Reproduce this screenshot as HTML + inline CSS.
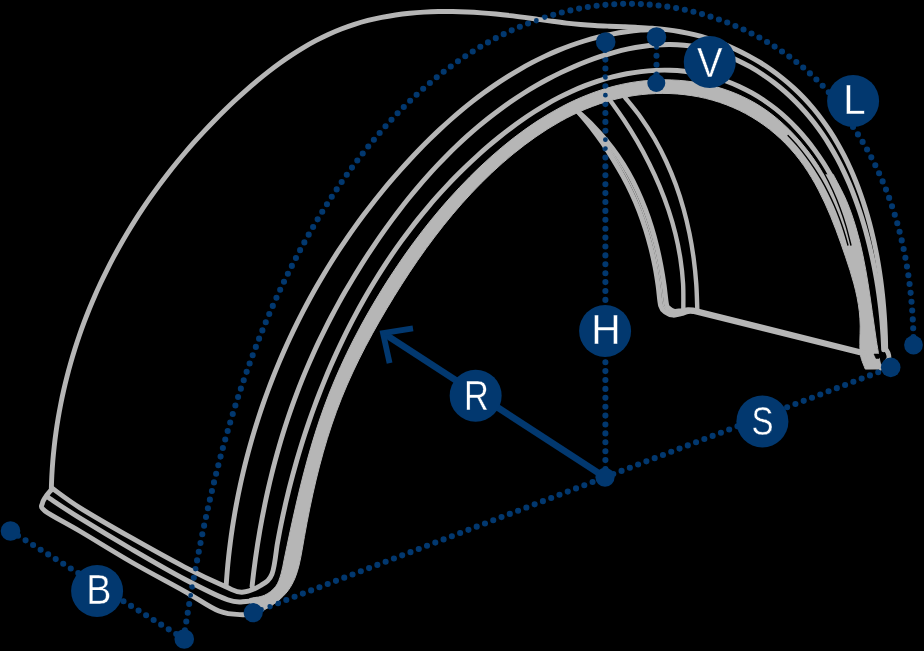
<!DOCTYPE html>
<html><head><meta charset="utf-8"><title>Mudguard dimensions</title>
<style>
html,body{margin:0;padding:0;background:#000;}
body{width:924px;height:651px;overflow:hidden;}
svg{display:block;will-change:transform;}
.lb{font-family:"Liberation Sans",sans-serif;font-size:100px;fill:#fff;stroke:#02386f;stroke-width:0.4px;vector-effect:non-scaling-stroke;}
</style></head><body>
<svg width="924" height="651" viewBox="0 0 924 651">
<rect width="924" height="651" fill="#000"/>
<path d="M183.50,639.07 C183.87,636.72 184.98,629.67 185.74,624.97 C186.49,620.27 187.26,615.58 188.05,610.89 C188.83,606.20 189.63,601.51 190.44,596.83 C191.25,592.15 192.08,587.47 192.92,582.79 C193.76,578.12 194.62,573.45 195.49,568.78 C196.37,564.12 197.26,559.45 198.17,554.80 C199.08,550.14 200.00,545.49 200.95,540.85 C201.89,536.20 202.86,531.56 203.84,526.93 C204.83,522.30 205.83,517.67 206.85,513.05 C207.88,508.43 208.92,503.81 209.99,499.21 C211.06,494.60 212.15,490.00 213.26,485.41 C214.37,480.81 215.51,476.23 216.67,471.65 C217.83,467.07 219.01,462.50 220.22,457.94 C221.42,453.38 222.66,448.83 223.92,444.28 C225.18,439.74 226.46,435.20 227.77,430.68 C229.09,426.15 230.42,421.63 231.79,417.13 C233.16,412.62 234.56,408.12 235.98,403.63 C237.41,399.15 238.86,394.67 240.34,390.20 C241.83,385.73 243.34,381.28 244.89,376.83 C246.44,372.39 248.01,367.95 249.62,363.53 C251.23,359.11 252.87,354.69 254.55,350.29 C256.23,345.89 257.93,341.51 259.68,337.13 C261.42,332.76 263.20,328.39 265.01,324.04 C266.82,319.69 268.67,315.35 270.56,311.03 C272.44,306.70 274.36,302.39 276.32,298.09 C278.28,293.80 280.28,289.51 282.31,285.24 C284.35,280.97 286.42,276.72 288.54,272.47 C290.65,268.23 292.80,264.01 295.00,259.79 C297.19,255.58 299.42,251.38 301.70,247.20 C303.98,243.02 306.29,238.86 308.65,234.71 C311.02,230.56 313.42,226.42 315.87,222.30 C318.31,218.19 320.80,214.09 323.34,210.01 C325.87,205.94 328.45,201.88 331.07,197.86 C333.69,193.83 336.36,189.83 339.07,185.86 C341.78,181.89 344.53,177.95 347.33,174.04 C350.13,170.13 352.97,166.26 355.86,162.42 C358.75,158.59 361.69,154.79 364.67,151.03 C367.65,147.27 370.67,143.55 373.74,139.88 C376.82,136.21 379.93,132.58 383.10,129.01 C386.26,125.43 389.47,121.90 392.73,118.42 C395.98,114.95 399.28,111.52 402.63,108.15 C405.98,104.79 409.38,101.47 412.82,98.22 C416.27,94.97 419.76,91.78 423.30,88.65 C426.84,85.52 430.42,82.46 434.06,79.46 C437.69,76.47 441.38,73.53 445.11,70.68 C448.84,67.82 452.62,65.03 456.45,62.32 C460.28,59.61 464.15,56.97 468.08,54.42 C472.00,51.86 475.98,49.38 480.00,46.98 C484.03,44.59 488.10,42.27 492.23,40.05 C496.35,37.82 500.53,35.68 504.75,33.63 C508.97,31.58 513.24,29.61 517.56,27.75 C521.87,25.89 526.23,24.12 530.62,22.45 C535.02,20.78 539.46,19.21 543.92,17.75 C548.39,16.29 552.89,14.92 557.42,13.68 C561.95,12.43 566.51,11.29 571.09,10.27 C575.68,9.25 580.29,8.34 584.91,7.55 C589.54,6.77 594.18,6.09 598.84,5.55 C603.50,5.01 608.18,4.59 612.86,4.30 C617.54,4.01 622.24,3.85 626.94,3.82 C631.63,3.79 636.34,3.88 641.04,4.11 C645.73,4.33 650.43,4.67 655.12,5.14 C659.80,5.61 664.48,6.21 669.14,6.93 C673.81,7.65 678.46,8.49 683.08,9.45 C687.71,10.41 692.32,11.49 696.89,12.69 C701.47,13.90 706.03,15.22 710.54,16.66 C715.06,18.09 719.54,19.65 723.99,21.32 C728.43,23.00 732.84,24.79 737.20,26.69 C741.55,28.59 745.87,30.61 750.13,32.74 C754.39,34.87 758.60,37.11 762.75,39.46 C766.90,41.82 771.00,44.28 775.03,46.86 C779.06,49.43 783.02,52.11 786.92,54.91 C790.81,57.70 794.64,60.60 798.38,63.60 C802.13,66.61 805.81,69.72 809.39,72.94 C812.98,76.15 816.49,79.47 819.90,82.90 C823.32,86.32 826.65,89.85 829.88,93.47 C833.11,97.10 837.72,102.80 839.29,104.66" fill="none" stroke="#02386f" stroke-width="6.1" stroke-linecap="round" stroke-dasharray="0 8.87"/>
<path d="M853.02,126.95 C854.42,129.10 858.71,135.48 861.38,139.84 C864.05,144.21 866.60,148.63 869.04,153.11 C871.47,157.59 873.79,162.13 876.01,166.72 C878.22,171.30 880.32,175.95 882.32,180.63 C884.31,185.31 886.20,190.05 887.98,194.82 C889.76,199.59 891.44,204.41 893.02,209.25 C894.60,214.10 896.08,218.99 897.46,223.90 C898.84,228.81 900.12,233.76 901.31,238.73 C902.50,243.70 903.59,248.69 904.60,253.71 C905.60,258.72 906.51,263.75 907.34,268.80 C908.17,273.85 908.90,278.91 909.56,283.98 C910.21,289.05 910.78,294.14 911.27,299.22 C911.76,304.30 912.16,309.39 912.49,314.48 C912.82,319.56 913.07,324.65 913.25,329.73 C913.43,334.81 913.51,342.40 913.56,344.94" fill="none" stroke="#02386f" stroke-width="6.1" stroke-linecap="round" stroke-dasharray="0 8.87"/>
<path d="M605.4,41.8 L605.4,477" fill="none" stroke="#02386f" stroke-width="6.1" stroke-linecap="round" stroke-dasharray="0 8.9"/>
<path d="M656.5,37.5 L656.5,83" fill="none" stroke="#02386f" stroke-width="6.1" stroke-linecap="round" stroke-dasharray="0 9.1"/>
<path d="M253.2,612.7 L605,477.25" fill="none" stroke="#02386f" stroke-width="6.1" stroke-linecap="round" stroke-dasharray="0 8.87"/>
<path d="M605,477.25 L890.5,367.5" fill="none" stroke="#02386f" stroke-width="6.1" stroke-linecap="round" stroke-dasharray="0 8.87"/>
<path d="M10.5,531 L184.25,639" fill="none" stroke="#02386f" stroke-width="6.1" stroke-linecap="round" stroke-dasharray="0 8.87"/>
<path d="M51.27,490.17 C51.37,487.74 51.58,480.43 51.83,475.58 C52.09,470.74 52.41,465.90 52.80,461.09 C53.20,456.28 53.66,451.48 54.19,446.69 C54.71,441.91 55.31,437.15 55.97,432.40 C56.64,427.65 57.37,422.92 58.16,418.21 C58.95,413.50 59.82,408.80 60.74,404.13 C61.66,399.46 62.65,394.80 63.70,390.16 C64.76,385.53 65.87,380.91 67.05,376.32 C68.23,371.72 69.47,367.14 70.77,362.59 C72.07,358.03 73.44,353.50 74.86,348.99 C76.29,344.48 77.77,339.99 79.31,335.52 C80.86,331.05 82.46,326.61 84.12,322.18 C85.79,317.76 87.51,313.36 89.28,308.99 C91.06,304.61 92.90,300.26 94.79,295.94 C96.68,291.61 98.63,287.31 100.63,283.03 C102.64,278.76 104.70,274.50 106.81,270.28 C108.92,266.05 111.09,261.85 113.31,257.68 C115.54,253.51 117.81,249.36 120.14,245.24 C122.47,241.13 124.85,237.03 127.28,232.97 C129.71,228.91 132.19,224.87 134.73,220.87 C137.26,216.86 139.85,212.88 142.48,208.94 C145.11,204.99 147.80,201.07 150.53,197.18 C153.26,193.29 156.04,189.44 158.87,185.61 C161.70,181.78 164.58,177.99 167.50,174.22 C170.42,170.46 173.39,166.72 176.40,163.02 C179.42,159.32 182.48,155.66 185.58,152.02 C188.69,148.39 191.84,144.78 195.03,141.22 C198.22,137.65 201.46,134.11 204.74,130.61 C208.01,127.11 211.34,123.65 214.70,120.22 C218.06,116.79 221.47,113.39 224.91,110.03 C228.36,106.67 231.84,103.35 235.37,100.06 C238.89,96.78 242.46,93.53 246.07,90.34 C249.67,87.15 253.32,84.00 257.02,80.93 C260.71,77.85 264.44,74.83 268.22,71.89 C272.00,68.94 275.82,66.06 279.69,63.28 C283.56,60.49 287.47,57.78 291.43,55.17 C295.39,52.56 299.40,50.03 303.45,47.62 C307.51,45.21 311.61,42.89 315.76,40.70 C319.91,38.51 324.11,36.42 328.35,34.47 C332.60,32.52 336.90,30.68 341.25,28.99 C345.60,27.30 350.00,25.74 354.45,24.32 C358.90,22.90 363.40,21.62 367.93,20.46 C372.47,19.30 377.05,18.27 381.66,17.35 C386.27,16.44 390.93,15.65 395.60,14.96 C400.28,14.27 404.99,13.71 409.71,13.23 C414.44,12.76 419.19,12.39 423.96,12.11 C428.72,11.84 433.51,11.66 438.30,11.56 C443.09,11.47 447.90,11.46 452.71,11.53 C457.51,11.60 462.33,11.75 467.13,11.97 C471.94,12.18 476.75,12.48 481.54,12.82 C486.34,13.17 491.13,13.59 495.90,14.05 C500.68,14.52 505.44,15.05 510.18,15.61 C514.91,16.17 519.63,16.80 524.33,17.43 C529.04,18.05 533.72,18.73 538.41,19.37 C543.10,20.02 547.77,20.69 552.45,21.30 C557.13,21.92 561.80,22.53 566.49,23.07 C571.18,23.61 575.88,24.11 580.59,24.52 C585.31,24.94 590.04,25.26 594.78,25.54 C599.53,25.82 604.29,26.01 609.06,26.21 C613.82,26.41 618.60,26.55 623.38,26.74 C628.15,26.92 632.93,27.09 637.70,27.34 C642.47,27.59 647.25,27.85 652.00,28.23 C656.75,28.61 661.50,29.03 666.23,29.62 C670.95,30.20 675.67,30.87 680.35,31.72 C685.03,32.57 689.70,33.57 694.32,34.71 C698.95,35.86 703.54,37.16 708.09,38.60 C712.64,40.03 717.15,41.62 721.60,43.34 C726.05,45.06 730.45,46.93 734.79,48.92 C739.12,50.91 743.40,53.04 747.60,55.29 C751.80,57.54 755.93,59.93 759.98,62.43 C764.02,64.94 767.99,67.57 771.86,70.31 C775.73,73.05 779.51,75.92 783.19,78.89 C786.87,81.87 790.45,84.96 793.91,88.15 C797.37,91.34 800.73,94.65 803.97,98.05 C807.20,101.45 810.32,104.96 813.33,108.55 C816.33,112.15 819.22,115.84 822.00,119.62 C824.79,123.39 827.46,127.26 830.02,131.20 C832.59,135.14 835.05,139.16 837.41,143.25 C839.76,147.34 842.01,151.50 844.17,155.72 C846.32,159.94 848.38,164.24 850.34,168.58 C852.30,172.92 854.16,177.32 855.93,181.76 C857.70,186.21 859.37,190.71 860.96,195.24 C862.55,199.77 864.05,204.35 865.47,208.96 C866.88,213.56 868.21,218.21 869.46,222.87 C870.70,227.54 871.86,232.23 872.95,236.94 C874.04,241.65 875.04,246.38 875.98,251.11 C876.91,255.84 877.77,260.60 878.55,265.34 C879.34,270.09 880.05,274.85 880.70,279.59 C881.34,284.33 881.92,289.08 882.43,293.81 C882.95,298.53 883.39,303.25 883.78,307.95 C884.17,312.64 884.49,317.32 884.76,321.96 C885.03,326.61 885.24,331.23 885.40,335.81 C885.56,340.39 885.66,347.18 885.71,349.45" fill="none" stroke="#b6b6b6" stroke-width="4.9" stroke-linecap="round" stroke-linejoin="round"/>
<path d="M226.16,585.40 C226.34,583.02 226.83,575.86 227.24,571.10 C227.65,566.34 228.11,561.58 228.62,556.83 C229.13,552.08 229.70,547.34 230.31,542.61 C230.92,537.87 231.58,533.14 232.29,528.43 C233.00,523.71 233.76,519.00 234.57,514.30 C235.38,509.59 236.24,504.90 237.15,500.22 C238.05,495.54 239.01,490.87 240.01,486.21 C241.01,481.54 242.07,476.89 243.17,472.26 C244.26,467.62 245.41,462.99 246.61,458.38 C247.80,453.77 249.04,449.16 250.33,444.58 C251.62,439.99 252.96,435.42 254.34,430.86 C255.73,426.30 257.16,421.75 258.63,417.22 C260.11,412.69 261.63,408.18 263.20,403.68 C264.77,399.18 266.38,394.70 268.04,390.24 C269.70,385.77 271.41,381.32 273.16,376.89 C274.91,372.46 276.71,368.05 278.55,363.66 C280.39,359.26 282.28,354.89 284.21,350.53 C286.14,346.18 288.11,341.84 290.13,337.52 C292.15,333.21 294.21,328.91 296.32,324.64 C298.43,320.37 300.58,316.11 302.77,311.88 C304.97,307.65 307.20,303.44 309.49,299.26 C311.77,295.07 314.09,290.91 316.45,286.77 C318.82,282.63 321.23,278.52 323.68,274.43 C326.13,270.34 328.62,266.27 331.16,262.23 C333.69,258.19 336.27,254.18 338.89,250.19 C341.51,246.20 344.17,242.24 346.87,238.30 C349.57,234.37 352.31,230.46 355.09,226.58 C357.88,222.70 360.70,218.85 363.56,215.03 C366.43,211.21 369.33,207.42 372.28,203.65 C375.22,199.89 378.21,196.16 381.23,192.45 C384.25,188.75 387.32,185.08 390.42,181.44 C393.52,177.80 396.66,174.19 399.84,170.61 C403.03,167.04 406.24,163.49 409.50,159.98 C412.76,156.47 416.06,152.99 419.39,149.55 C422.73,146.11 426.10,142.71 429.52,139.35 C432.93,136.00 436.39,132.68 439.88,129.41 C443.38,126.14 446.91,122.92 450.49,119.76 C454.07,116.59 457.69,113.47 461.35,110.42 C465.01,107.36 468.71,104.36 472.45,101.43 C476.20,98.49 479.98,95.62 483.81,92.81 C487.64,90.01 491.51,87.26 495.43,84.60 C499.35,81.93 503.31,79.34 507.31,76.82 C511.32,74.31 515.37,71.86 519.46,69.51 C523.56,67.15 527.70,64.87 531.88,62.68 C536.07,60.49 540.30,58.39 544.58,56.38 C548.85,54.37 553.18,52.45 557.55,50.63 C561.91,48.82 566.33,47.10 570.78,45.49 C575.24,43.88 579.74,42.37 584.28,40.98 C588.83,39.59 593.41,38.30 598.04,37.15 C602.67,35.99 607.34,34.95 612.05,34.04 C616.76,33.13 621.51,32.35 626.30,31.70 C631.09,31.06 635.92,30.54 640.79,30.17 C645.66,29.80 653.06,29.60 655.51,29.48" fill="none" stroke="#b6b6b6" stroke-width="4.9" stroke-linecap="round" stroke-linejoin="round"/>
<path d="M252.06,586.23 C252.33,583.91 253.09,576.97 253.67,572.33 C254.24,567.69 254.85,563.04 255.50,558.39 C256.15,553.75 256.84,549.09 257.57,544.43 C258.30,539.78 259.07,535.12 259.88,530.46 C260.69,525.81 261.54,521.15 262.43,516.50 C263.32,511.84 264.25,507.19 265.22,502.55 C266.20,497.90 267.21,493.26 268.27,488.63 C269.32,484.00 270.42,479.37 271.56,474.76 C272.70,470.15 273.88,465.54 275.11,460.95 C276.33,456.36 277.60,451.78 278.91,447.21 C280.23,442.65 281.58,438.10 282.98,433.56 C284.38,429.03 285.83,424.51 287.31,420.02 C288.80,415.52 290.34,411.04 291.91,406.59 C293.49,402.13 295.12,397.70 296.79,393.29 C298.46,388.88 300.17,384.49 301.93,380.13 C303.69,375.76 305.49,371.42 307.34,367.10 C309.19,362.78 311.08,358.48 313.01,354.20 C314.95,349.92 316.92,345.66 318.94,341.43 C320.96,337.19 323.03,332.98 325.13,328.78 C327.23,324.59 329.38,320.42 331.57,316.26 C333.76,312.11 335.98,307.98 338.25,303.86 C340.52,299.75 342.83,295.65 345.18,291.58 C347.53,287.50 349.92,283.45 352.35,279.41 C354.78,275.37 357.25,271.36 359.75,267.36 C362.26,263.35 364.80,259.37 367.38,255.41 C369.97,251.45 372.59,247.50 375.25,243.58 C377.91,239.66 380.61,235.76 383.35,231.89 C386.09,228.01 388.87,224.16 391.68,220.35 C394.50,216.53 397.36,212.74 400.26,208.98 C403.17,205.23 406.11,201.50 409.09,197.81 C412.07,194.12 415.10,190.47 418.17,186.86 C421.23,183.24 424.34,179.66 427.50,176.13 C430.65,172.60 433.85,169.10 437.09,165.66 C440.33,162.21 443.61,158.81 446.94,155.45 C450.27,152.10 453.64,148.79 457.06,145.54 C460.48,142.29 463.94,139.09 467.45,135.94 C470.96,132.79 474.51,129.70 478.11,126.67 C481.71,123.63 485.36,120.66 489.05,117.74 C492.75,114.83 496.49,111.97 500.28,109.19 C504.07,106.40 507.90,103.67 511.79,101.02 C515.67,98.36 519.61,95.77 523.59,93.25 C527.57,90.74 531.60,88.29 535.69,85.92 C539.77,83.55 543.90,81.25 548.08,79.03 C552.26,76.81 556.50,74.66 560.78,72.60 C565.06,70.54 569.40,68.55 573.78,66.66 C578.17,64.76 582.61,62.94 587.09,61.23 C591.56,59.52 596.09,57.90 600.64,56.41 C605.19,54.92 609.78,53.53 614.39,52.28 C618.99,51.03 623.63,49.90 628.28,48.94 C632.92,47.97 637.59,47.13 642.25,46.47 C646.91,45.81 651.59,45.30 656.26,44.98 C660.92,44.65 665.59,44.50 670.24,44.54 C674.88,44.59 679.53,44.82 684.14,45.27 C688.75,45.71 693.35,46.37 697.90,47.23 C702.46,48.10 706.99,49.19 711.47,50.47 C715.96,51.75 720.40,53.23 724.79,54.89 C729.17,56.55 733.51,58.41 737.78,60.42 C742.04,62.43 746.25,64.63 750.38,66.97 C754.50,69.31 758.56,71.82 762.53,74.46 C766.49,77.10 770.38,79.89 774.16,82.80 C777.94,85.71 781.63,88.76 785.21,91.91 C788.78,95.06 792.26,98.34 795.61,101.70 C798.96,105.07 802.19,108.55 805.31,112.10 C808.42,115.66 811.41,119.31 814.29,123.04 C817.17,126.78 819.93,130.60 822.59,134.48 C825.25,138.37 827.79,142.34 830.23,146.37 C832.68,150.41 835.01,154.51 837.25,158.67 C839.49,162.83 841.62,167.05 843.66,171.32 C845.70,175.59 847.64,179.92 849.50,184.29 C851.35,188.66 853.11,193.08 854.79,197.52 C856.46,201.97 858.05,206.46 859.56,210.98 C861.07,215.49 862.49,220.04 863.84,224.60 C865.19,229.17 866.45,233.76 867.65,238.36 C868.85,242.95 869.97,247.57 871.03,252.19 C872.09,256.81 873.08,261.44 874.00,266.07 C874.92,270.69 875.78,275.33 876.57,279.96 C877.36,284.60 878.09,289.24 878.75,293.89 C879.41,298.54 880.01,303.19 880.54,307.84 C881.07,312.50 881.54,317.16 881.95,321.82 C882.35,326.49 882.70,331.16 882.98,335.83 C883.26,340.51 883.53,347.53 883.64,349.87" fill="none" stroke="#b6b6b6" stroke-width="4.9" stroke-linecap="round" stroke-linejoin="round"/>
<path d="M52.50,488.50 C57.08,491.72 66.73,499.52 80.00,507.80 C93.27,516.08 114.73,528.37 132.10,538.20 C149.47,548.03 168.58,558.70 184.20,566.80 C199.82,574.90 216.17,582.55 225.80,586.80 C235.43,591.05 236.18,592.52 242.00,592.30 C247.82,592.08 255.70,588.55 260.70,585.50 C265.70,582.45 269.25,580.82 272.00,574.00 C274.75,567.18 276.33,549.48 277.20,544.58 C277.63,542.26 278.90,535.30 279.81,530.66 C280.71,526.02 281.66,521.38 282.66,516.74 C283.65,512.10 284.68,507.47 285.75,502.83 C286.83,498.20 287.94,493.57 289.10,488.94 C290.25,484.31 291.45,479.69 292.69,475.08 C293.93,470.46 295.21,465.85 296.53,461.25 C297.86,456.65 299.22,452.05 300.63,447.47 C302.03,442.89 303.48,438.31 304.97,433.75 C306.46,429.18 308.00,424.63 309.57,420.09 C311.15,415.55 312.77,411.02 314.43,406.51 C316.09,401.99 317.79,397.49 319.54,393.01 C321.29,388.53 323.08,384.06 324.91,379.61 C326.74,375.16 328.62,370.72 330.54,366.31 C332.46,361.90 334.42,357.50 336.43,353.13 C338.43,348.75 340.48,344.40 342.57,340.07 C344.67,335.73 346.81,331.42 348.99,327.14 C351.17,322.85 353.39,318.59 355.66,314.35 C357.93,310.12 360.24,305.91 362.60,301.72 C364.96,297.54 367.36,293.38 369.81,289.25 C372.25,285.12 374.75,281.02 377.28,276.95 C379.82,272.88 382.40,268.84 385.02,264.83 C387.65,260.83 390.32,256.85 393.04,252.91 C395.75,248.97 398.51,245.05 401.32,241.18 C404.13,237.31 406.98,233.47 409.87,229.66 C412.77,225.86 415.71,222.09 418.70,218.37 C421.69,214.64 424.73,210.95 427.81,207.30 C430.89,203.65 434.01,200.03 437.19,196.47 C440.36,192.90 443.58,189.37 446.85,185.88 C450.11,182.40 453.42,178.96 456.78,175.56 C460.14,172.16 463.54,168.81 467.00,165.50 C470.45,162.20 473.95,158.93 477.49,155.72 C481.04,152.51 484.63,149.34 488.27,146.23 C491.91,143.11 495.60,140.04 499.34,137.03 C503.07,134.03 506.86,131.07 510.69,128.19 C514.52,125.31 518.40,122.49 522.33,119.75 C526.27,117.01 530.25,114.35 534.28,111.77 C538.31,109.20 542.40,106.71 546.53,104.32 C550.67,101.93 554.85,99.63 559.10,97.44 C563.34,95.26 567.63,93.17 571.97,91.20 C576.32,89.24 580.72,87.38 585.18,85.65 C589.63,83.93 594.14,82.32 598.71,80.86 C603.27,79.40 607.90,78.06 612.57,76.87 C617.24,75.69 621.97,74.64 626.71,73.76 C631.46,72.87 636.26,72.13 641.05,71.57 C645.85,71.01 650.67,70.60 655.48,70.38 C660.30,70.16 665.12,70.11 669.92,70.25 C674.72,70.40 679.52,70.72 684.27,71.24 C689.02,71.76 693.76,72.48 698.44,73.39 C703.12,74.29 707.77,75.38 712.35,76.66 C716.94,77.93 721.48,79.39 725.95,81.03 C730.41,82.66 734.83,84.48 739.15,86.46 C743.47,88.45 747.73,90.61 751.88,92.94 C756.03,95.26 760.11,97.76 764.07,100.42 C768.03,103.08 771.90,105.91 775.65,108.88 C779.40,111.85 783.04,115.00 786.56,118.26 C790.09,121.52 793.50,124.94 796.80,128.46 C800.10,131.97 803.28,135.62 806.35,139.35 C809.42,143.08 812.37,146.92 815.20,150.83 C818.03,154.73 820.75,158.73 823.35,162.78 C825.94,166.82 829.54,173.03 830.78,175.08" fill="none" stroke="#b6b6b6" stroke-width="4.9" stroke-linecap="round" stroke-linejoin="round"/>
<path d="M47.50,497.00 C52.92,500.53 65.90,509.45 80.00,518.20 C94.10,526.95 114.73,539.37 132.10,549.50 C149.47,559.63 168.28,570.62 184.20,579.00 C200.12,587.38 217.30,596.05 227.60,599.80 C237.90,603.55 241.27,601.58 246.00,601.50 C250.73,601.42 254.33,599.67 256.00,599.30" fill="none" stroke="#b6b6b6" stroke-width="4.9" stroke-linecap="round" stroke-linejoin="round"/>
<path d="M52.50,488.50 C51.58,489.58 48.67,492.58 47.00,495.00 C45.33,497.42 42.83,500.33 42.50,503.00 C42.17,505.67 38.75,506.29 45.00,511.00 C51.25,515.71 65.48,522.67 80.00,531.25 C94.52,539.83 114.73,552.52 132.10,562.50 C149.47,572.48 169.73,583.00 184.20,591.10 C198.67,599.20 209.10,607.17 218.90,611.10 C228.70,615.03 237.32,614.43 243.00,614.70 C248.68,614.97 251.33,613.03 253.00,612.70" fill="none" stroke="#b6b6b6" stroke-width="4.9" stroke-linecap="round" stroke-linejoin="round"/>
<path d="M249.61,598.55 C252.10,597.99 260.23,597.21 264.57,595.22 C268.90,593.22 272.87,590.15 275.62,586.60 C278.37,583.04 279.63,578.39 281.05,573.90 C282.47,569.41 283.13,564.41 284.14,559.66 C285.15,554.91 286.12,550.15 287.12,545.40 C288.12,540.66 289.12,535.92 290.14,531.20 C291.16,526.47 292.19,521.75 293.24,517.05 C294.29,512.34 295.35,507.65 296.43,502.97 C297.52,498.28 298.63,493.61 299.76,488.95 C300.90,484.29 302.06,479.64 303.26,475.00 C304.45,470.36 305.68,465.74 306.94,461.13 C308.21,456.51 309.51,451.92 310.86,447.33 C312.20,442.74 313.59,438.17 315.02,433.61 C316.46,429.05 317.94,424.51 319.48,419.98 C321.02,415.45 322.60,410.94 324.25,406.44 C325.90,401.94 327.60,397.45 329.37,392.98 C331.13,388.51 332.96,384.06 334.84,379.63 C336.73,375.19 338.67,370.77 340.66,366.38 C342.66,361.98 344.71,357.61 346.80,353.25 C348.90,348.90 351.05,344.56 353.25,340.26 C355.45,335.95 357.70,331.66 359.99,327.40 C362.28,323.14 364.62,318.91 366.99,314.70 C369.37,310.49 371.80,306.31 374.26,302.16 C376.71,298.01 379.22,293.89 381.75,289.80 C384.29,285.71 386.86,281.65 389.47,277.62 C392.08,273.60 394.72,269.60 397.39,265.64 C400.06,261.68 402.77,257.76 405.51,253.87 C408.26,249.97 411.04,246.11 413.86,242.29 C416.68,238.46 419.54,234.67 422.45,230.91 C425.35,227.15 428.30,223.43 431.29,219.73 C434.29,216.04 437.33,212.38 440.42,208.75 C443.51,205.13 446.64,201.53 449.83,197.97 C453.02,194.41 456.27,190.88 459.56,187.39 C462.86,183.89 466.22,180.42 469.63,177.00 C473.04,173.57 476.51,170.17 480.03,166.83 C483.55,163.49 487.13,160.18 490.77,156.94 C494.40,153.70 498.09,150.51 501.83,147.39 C505.57,144.27 509.36,141.20 513.21,138.23 C517.05,135.25 520.95,132.33 524.90,129.52 C528.84,126.70 532.84,123.95 536.89,121.31 C540.94,118.67 545.04,116.12 549.18,113.68 C553.33,111.24 557.52,108.89 561.76,106.66 C566.00,104.44 570.29,102.32 574.62,100.34 C578.95,98.35 583.33,96.48 587.76,94.75 C592.18,93.01 596.65,91.41 601.16,89.95 C605.67,88.50 610.23,87.18 614.83,86.02 C619.42,84.86 624.06,83.84 628.74,82.99 C633.42,82.15 638.15,81.45 642.91,80.94 C647.67,80.43 652.48,80.08 657.30,79.92 C662.13,79.75 667.00,79.76 671.85,79.95 C676.71,80.14 681.58,80.50 686.42,81.05 C691.26,81.60 696.10,82.33 700.89,83.24 C705.67,84.15 710.43,85.24 715.11,86.52 C719.79,87.80 724.43,89.26 728.97,90.91 C733.51,92.56 737.99,94.40 742.34,96.42 C746.69,98.45 750.95,100.67 755.07,103.07 C759.20,105.48 763.20,108.08 767.08,110.85 C770.96,113.61 774.72,116.56 778.36,119.65 C782.00,122.73 785.51,125.99 788.92,129.36 C792.32,132.73 795.61,136.25 798.78,139.86 C801.96,143.47 805.02,147.21 807.98,151.03 C810.94,154.84 813.78,158.77 816.52,162.74 C819.27,166.72 823.12,172.87 824.44,174.89 L833.33,174.61 C835.51,178.93 842.62,191.72 846.40,200.55 C850.17,209.38 853.22,218.44 855.98,227.58 C858.73,236.73 860.91,246.05 862.93,255.41 C864.94,264.77 866.52,274.27 868.08,283.75 C869.64,293.23 870.90,302.80 872.29,312.31 C873.67,321.82 874.90,331.36 876.39,340.80 C877.88,350.24 880.42,364.26 881.22,368.95 L865.26,369.07 C864.47,366.83 861.42,360.28 860.53,355.59 C859.63,350.90 859.94,345.86 859.89,340.94 C859.84,336.02 860.33,330.95 860.23,326.07 C860.14,321.18 859.84,316.38 859.33,311.63 C858.81,306.89 858.03,302.24 857.13,297.61 C856.23,292.99 855.12,288.43 853.92,283.88 C852.72,279.33 851.36,274.83 849.96,270.32 C848.56,265.81 847.04,261.32 845.52,256.80 C844.00,252.29 842.45,247.76 840.84,243.24 C839.23,238.71 837.60,234.18 835.89,229.67 C834.18,225.17 832.43,220.67 830.58,216.22 C828.73,211.77 826.82,207.34 824.80,202.99 C822.79,198.63 820.69,194.30 818.47,190.07 C816.25,185.83 813.94,181.65 811.48,177.58 C809.03,173.50 806.46,169.49 803.74,165.61 C801.01,161.73 798.16,157.94 795.14,154.28 C792.12,150.63 788.94,147.09 785.60,143.69 C782.27,140.30 778.77,137.03 775.15,133.93 C771.53,130.82 767.76,127.86 763.88,125.07 C760.00,122.27 755.99,119.63 751.88,117.18 C747.78,114.73 743.55,112.45 739.25,110.36 C734.96,108.28 730.55,106.38 726.09,104.68 C721.63,102.98 717.08,101.48 712.49,100.18 C707.90,98.87 703.24,97.76 698.55,96.83 C693.86,95.91 689.11,95.18 684.35,94.63 C679.60,94.08 674.80,93.72 670.01,93.54 C665.22,93.36 660.40,93.36 655.61,93.54 C650.81,93.72 646.01,94.08 641.24,94.61 C636.48,95.14 631.72,95.84 627.01,96.71 C622.31,97.58 617.63,98.63 613.01,99.83 C608.40,101.04 603.83,102.42 599.33,103.94 C594.82,105.46 590.37,107.15 585.98,108.96 C581.58,110.78 577.25,112.75 572.97,114.83 C568.69,116.91 564.46,119.13 560.30,121.46 C556.13,123.78 552.02,126.23 547.97,128.77 C543.92,131.31 539.93,133.97 536.00,136.69 C532.06,139.42 528.18,142.25 524.37,145.15 C520.55,148.04 516.79,151.02 513.09,154.06 C509.39,157.09 505.75,160.19 502.17,163.34 C498.58,166.50 495.06,169.71 491.59,172.98 C488.12,176.25 484.70,179.58 481.34,182.95 C477.98,186.32 474.67,189.75 471.41,193.23 C468.15,196.70 464.94,200.23 461.78,203.79 C458.62,207.36 455.51,210.98 452.45,214.63 C449.38,218.29 446.37,221.99 443.39,225.72 C440.42,229.46 437.49,233.24 434.61,237.05 C431.72,240.86 428.88,244.71 426.07,248.58 C423.27,252.46 420.50,256.37 417.78,260.31 C415.05,264.25 412.36,268.22 409.71,272.21 C407.06,276.21 404.44,280.23 401.86,284.27 C399.27,288.31 396.73,292.38 394.21,296.46 C391.69,300.55 389.20,304.65 386.75,308.77 C384.29,312.89 381.87,317.03 379.48,321.19 C377.10,325.34 374.74,329.52 372.44,333.71 C370.13,337.91 367.86,342.12 365.64,346.36 C363.43,350.59 361.25,354.84 359.13,359.12 C357.01,363.40 354.94,367.69 352.93,372.01 C350.91,376.33 348.95,380.67 347.06,385.04 C345.17,389.40 343.33,393.79 341.56,398.20 C339.80,402.61 338.09,407.05 336.46,411.51 C334.82,415.97 333.25,420.45 331.73,424.95 C330.21,429.46 328.76,433.98 327.35,438.53 C325.95,443.07 324.60,447.64 323.31,452.22 C322.01,456.81 320.76,461.41 319.56,466.03 C318.36,470.65 317.20,475.29 316.09,479.95 C314.97,484.60 313.90,489.28 312.87,493.96 C311.83,498.65 310.84,503.35 309.87,508.06 C308.90,512.78 307.97,517.51 307.07,522.25 C306.16,526.99 305.29,531.74 304.44,536.50 C303.58,541.26 302.83,546.07 301.94,550.82 C301.06,555.56 300.29,560.36 299.11,564.95 C297.94,569.53 296.71,574.09 294.89,578.33 C293.07,582.58 290.95,586.69 288.17,590.41 C285.40,594.13 281.94,597.58 278.25,600.65 C274.55,603.73 270.25,606.49 266.01,608.86 C261.76,611.23 254.99,613.89 252.79,614.90 Z" fill="#b6b6b6" stroke="#b6b6b6" stroke-width="1.0" stroke-linejoin="round"/>
<path d="M759.89,101.57 C762.49,103.51 770.54,109.11 775.51,113.24 C780.48,117.38 785.21,121.78 789.70,126.36 C794.20,130.95 798.45,135.78 802.48,140.77 C806.51,145.76 810.31,150.96 813.88,156.30 C817.45,161.63 820.79,167.15 823.91,172.78 C827.03,178.41 829.93,184.19 832.61,190.06 C835.28,195.92 837.74,201.92 839.98,207.96 C842.23,214.01 844.25,220.16 846.07,226.34 C847.89,232.52 850.09,241.91 850.89,245.02" fill="none" stroke="#000" stroke-width="1.4" stroke-linecap="round"/>
<path d="M788.07,135.49 C789.65,137.21 794.50,142.30 797.53,145.85 C800.57,149.41 803.48,153.06 806.27,156.80 C809.07,160.54 811.75,164.37 814.30,168.27 C816.86,172.17 819.31,176.16 821.63,180.21 C823.96,184.26 826.16,188.39 828.26,192.57 C830.35,196.74 832.33,200.99 834.19,205.28 C836.06,209.57 837.80,213.92 839.44,218.30 C841.07,222.68 842.60,227.11 844.00,231.57 C845.41,236.02 847.25,242.78 847.90,245.03" fill="none" stroke="#000" stroke-width="1.4" stroke-linecap="round"/>
<path d="M578.40,111.95 C580.47,114.46 586.85,121.83 590.85,126.96 C594.85,132.09 598.70,137.35 602.38,142.71 C606.06,148.07 609.54,153.57 612.93,159.11 C616.32,164.64 619.62,170.24 622.72,175.92 C625.82,181.61 628.79,187.37 631.53,193.22 C634.27,199.07 636.84,205.00 639.17,211.01 C641.50,217.03 643.57,223.15 645.51,229.31 C647.45,235.47 649.22,241.69 650.80,247.96 C652.39,254.22 653.80,260.55 655.02,266.90 C656.25,273.26 657.23,279.61 658.17,286.08 C659.12,292.54 659.45,301.34 660.69,305.71 C661.94,310.08 663.55,310.72 665.64,312.30 C667.73,313.88 670.62,314.97 673.23,315.18 C675.83,315.39 678.77,314.19 681.25,313.58 C683.73,312.96 685.94,311.84 688.09,311.49 C690.25,311.15 693.16,311.50 694.18,311.50 L865.2,354.2" fill="none" stroke="#b6b6b6" stroke-width="4.9" stroke-linecap="round" stroke-linejoin="round"/>
<path d="M578.40,111.95 C580.77,114.19 588.08,120.70 592.66,125.38 C597.24,130.06 601.67,134.98 605.89,140.05 C610.10,145.13 614.19,150.39 617.96,155.83 C621.72,161.28 625.23,166.95 628.49,172.72 C631.75,178.49 634.74,184.43 637.51,190.43 C640.29,196.43 642.79,202.56 645.14,208.72 C647.49,214.88 649.67,221.11 651.62,227.41 C653.56,233.70 655.27,240.07 656.82,246.47 C658.37,252.86 659.70,259.32 660.92,265.78 C662.13,272.23 663.18,278.80 664.11,285.21 C665.04,291.62 665.70,300.41 666.51,304.25 C667.32,308.10 667.75,307.14 668.96,308.30 C670.17,309.46 671.81,310.80 673.77,311.22 C675.74,311.64 678.40,311.07 680.75,310.82 C683.11,310.57 685.66,309.83 687.91,309.71 C690.15,309.58 693.17,310.03 694.22,310.10 L864.8,352.8" fill="none" stroke="#b6b6b6" stroke-width="4.9" stroke-linecap="round" stroke-linejoin="round"/>
<path d="M578.40,111.95 C580.62,114.32 587.47,121.27 591.76,126.17 C596.05,131.07 600.19,136.16 604.13,141.38 C608.08,146.60 611.87,151.98 615.44,157.47 C619.02,162.96 622.42,168.60 625.60,174.32 C628.78,180.05 631.76,185.90 634.52,191.82 C637.28,197.75 639.82,203.78 642.16,209.87 C644.50,215.96 646.62,222.13 648.56,228.36 C650.50,234.58 652.24,240.88 653.81,247.21 C655.38,253.54 656.75,259.93 657.97,266.34 C659.19,272.75 660.20,279.20 661.14,285.64 C662.08,292.08 662.58,300.87 663.60,304.98 C664.63,309.09 665.65,308.93 667.30,310.30 C668.95,311.67 671.22,312.88 673.50,313.20 C675.78,313.52 678.58,312.63 681.00,312.20 C683.42,311.77 685.80,310.83 688.00,310.60 C690.20,310.37 693.17,310.77 694.20,310.80 L865,353.5" fill="none" stroke="#b6b6b6" stroke-width="1.7" stroke-linecap="round" stroke-linejoin="round"/>
<path d="M609.39,99.19 C611.79,102.62 619.19,112.77 623.81,119.78 C628.44,126.78 632.91,133.94 637.12,141.21 C641.34,148.49 645.38,155.91 649.13,163.43 C652.88,170.95 656.42,178.61 659.65,186.35 C662.87,194.10 665.85,201.97 668.48,209.92 C671.12,217.86 673.48,225.92 675.46,234.04 C677.44,242.17 679.11,250.39 680.38,258.67 C681.65,266.94 682.58,275.30 683.07,283.71 C683.56,292.12 683.29,304.88 683.33,309.11" fill="none" stroke="#b6b6b6" stroke-width="4.4" stroke-linecap="round" stroke-linejoin="round"/>
<path d="M624.97,97.44 C627.61,100.77 635.89,110.55 640.81,117.44 C645.73,124.32 650.28,131.46 654.49,138.75 C658.71,146.04 662.57,153.56 666.12,161.20 C669.66,168.83 672.86,176.66 675.76,184.58 C678.66,192.50 681.23,200.58 683.51,208.72 C685.79,216.85 687.76,225.12 689.45,233.41 C691.14,241.71 692.54,250.09 693.67,258.48 C694.80,266.86 695.65,275.31 696.25,283.73 C696.85,292.14 697.11,304.76 697.28,308.97" fill="none" stroke="#b6b6b6" stroke-width="4.4" stroke-linecap="round" stroke-linejoin="round"/>
<path d="M884.5,348 Q889,352 889,358 Q886,364 881,368" fill="none" stroke="#b6b6b6" stroke-width="4.7" stroke-linecap="round" stroke-linejoin="round"/>
<path d="M865.5,353 L866.5,368 L881,368 L876,353 Z" fill="#b6b6b6" stroke="#b6b6b6" stroke-width="2" stroke-linejoin="round"/>
<path d="M874,354 L883.5,354 L879,358.5 L876,358.5 Z" fill="#000" stroke="#000" stroke-width="0.5" />
<path d="M183.50,639.07 C183.87,636.72 184.98,629.67 185.74,624.97 C186.49,620.27 187.26,615.58 188.05,610.89 C188.83,606.20 189.63,601.51 190.44,596.83 C191.25,592.15 192.08,587.47 192.92,582.79 C193.76,578.12 194.62,573.45 195.49,568.78 C196.37,564.12 197.26,559.45 198.17,554.80 C199.08,550.14 200.00,545.49 200.95,540.85 C201.89,536.20 202.86,531.56 203.84,526.93 C204.83,522.30 205.83,517.67 206.85,513.05 C207.88,508.43 208.92,503.81 209.99,499.21 C211.06,494.60 212.15,490.00 213.26,485.41 C214.37,480.81 215.51,476.23 216.67,471.65 C217.83,467.07 219.01,462.50 220.22,457.94 C221.42,453.38 222.66,448.83 223.92,444.28 C225.18,439.74 226.46,435.20 227.77,430.68 C229.09,426.15 230.42,421.63 231.79,417.13 C233.16,412.62 234.56,408.12 235.98,403.63 C237.41,399.15 238.86,394.67 240.34,390.20 C241.83,385.73 243.34,381.28 244.89,376.83 C246.44,372.39 248.01,367.95 249.62,363.53 C251.23,359.11 252.87,354.69 254.55,350.29 C256.23,345.89 257.93,341.51 259.68,337.13 C261.42,332.76 263.20,328.39 265.01,324.04 C266.82,319.69 268.67,315.35 270.56,311.03 C272.44,306.70 274.36,302.39 276.32,298.09 C278.28,293.80 280.28,289.51 282.31,285.24 C284.35,280.97 286.42,276.72 288.54,272.47 C290.65,268.23 292.80,264.01 295.00,259.79 C297.19,255.58 299.42,251.38 301.70,247.20 C303.98,243.02 306.29,238.86 308.65,234.71 C311.02,230.56 313.42,226.42 315.87,222.30 C318.31,218.19 320.80,214.09 323.34,210.01 C325.87,205.94 328.45,201.88 331.07,197.86 C333.69,193.83 336.36,189.83 339.07,185.86 C341.78,181.89 344.53,177.95 347.33,174.04 C350.13,170.13 352.97,166.26 355.86,162.42 C358.75,158.59 361.69,154.79 364.67,151.03 C367.65,147.27 370.67,143.55 373.74,139.88 C376.82,136.21 379.93,132.58 383.10,129.01 C386.26,125.43 389.47,121.90 392.73,118.42 C395.98,114.95 399.28,111.52 402.63,108.15 C405.98,104.79 409.38,101.47 412.82,98.22 C416.27,94.97 419.76,91.78 423.30,88.65 C426.84,85.52 430.42,82.46 434.06,79.46 C437.69,76.47 441.38,73.53 445.11,70.68 C448.84,67.82 452.62,65.03 456.45,62.32 C460.28,59.61 464.15,56.97 468.08,54.42 C472.00,51.86 475.98,49.38 480.00,46.98 C484.03,44.59 488.10,42.27 492.23,40.05 C496.35,37.82 500.53,35.68 504.75,33.63 C508.97,31.58 513.24,29.61 517.56,27.75 C521.87,25.89 526.23,24.12 530.62,22.45 C535.02,20.78 539.46,19.21 543.92,17.75 C548.39,16.29 552.89,14.92 557.42,13.68 C561.95,12.43 566.51,11.29 571.09,10.27 C575.68,9.25 580.29,8.34 584.91,7.55 C589.54,6.77 594.18,6.09 598.84,5.55 C603.50,5.01 608.18,4.59 612.86,4.30 C617.54,4.01 622.24,3.85 626.94,3.82 C631.63,3.79 636.34,3.88 641.04,4.11 C645.73,4.33 650.43,4.67 655.12,5.14 C659.80,5.61 664.48,6.21 669.14,6.93 C673.81,7.65 678.46,8.49 683.08,9.45 C687.71,10.41 692.32,11.49 696.89,12.69 C701.47,13.90 706.03,15.22 710.54,16.66 C715.06,18.09 719.54,19.65 723.99,21.32 C728.43,23.00 732.84,24.79 737.20,26.69 C741.55,28.59 745.87,30.61 750.13,32.74 C754.39,34.87 758.60,37.11 762.75,39.46 C766.90,41.82 771.00,44.28 775.03,46.86 C779.06,49.43 783.02,52.11 786.92,54.91 C790.81,57.70 794.64,60.60 798.38,63.60 C802.13,66.61 805.81,69.72 809.39,72.94 C812.98,76.15 816.49,79.47 819.90,82.90 C823.32,86.32 826.65,89.85 829.88,93.47 C833.11,97.10 837.72,102.80 839.29,104.66" fill="none" stroke="#02386f" stroke-width="4.8" stroke-linecap="round" stroke-dasharray="0 8.87"/>
<path d="M853.02,126.95 C854.42,129.10 858.71,135.48 861.38,139.84 C864.05,144.21 866.60,148.63 869.04,153.11 C871.47,157.59 873.79,162.13 876.01,166.72 C878.22,171.30 880.32,175.95 882.32,180.63 C884.31,185.31 886.20,190.05 887.98,194.82 C889.76,199.59 891.44,204.41 893.02,209.25 C894.60,214.10 896.08,218.99 897.46,223.90 C898.84,228.81 900.12,233.76 901.31,238.73 C902.50,243.70 903.59,248.69 904.60,253.71 C905.60,258.72 906.51,263.75 907.34,268.80 C908.17,273.85 908.90,278.91 909.56,283.98 C910.21,289.05 910.78,294.14 911.27,299.22 C911.76,304.30 912.16,309.39 912.49,314.48 C912.82,319.56 913.07,324.65 913.25,329.73 C913.43,334.81 913.51,342.40 913.56,344.94" fill="none" stroke="#02386f" stroke-width="4.8" stroke-linecap="round" stroke-dasharray="0 8.87"/>
<path d="M605.4,41.8 L605.4,477" fill="none" stroke="#02386f" stroke-width="4.8" stroke-linecap="round" stroke-dasharray="0 8.9"/>
<path d="M656.5,37.5 L656.5,83" fill="none" stroke="#02386f" stroke-width="4.8" stroke-linecap="round" stroke-dasharray="0 9.1"/>
<path d="M253.2,612.7 L605,477.25" fill="none" stroke="#02386f" stroke-width="4.8" stroke-linecap="round" stroke-dasharray="0 8.87"/>
<path d="M605,477.25 L890.5,367.5" fill="none" stroke="#02386f" stroke-width="4.8" stroke-linecap="round" stroke-dasharray="0 8.87"/>
<path d="M10.5,531 L184.25,639" fill="none" stroke="#02386f" stroke-width="4.8" stroke-linecap="round" stroke-dasharray="0 8.87"/>
<path d="M383.5,333.3 L605,477.25" stroke="#02386f" stroke-width="6.6" fill="none"/>
<path d="M413,328.3 L383,333.1 L389.6,363.2" stroke="#02386f" stroke-width="5.8" fill="none" stroke-linejoin="miter" stroke-miterlimit="10"/>
<circle cx="605.7" cy="42" r="9.8" fill="#02386f"/>
<circle cx="656.5" cy="37" r="9.8" fill="#02386f"/>
<circle cx="656.3" cy="83" r="9.0" fill="#02386f"/>
<circle cx="605" cy="477.25" r="9.6" fill="#02386f"/>
<circle cx="890.7" cy="367.4" r="9.8" fill="#02386f"/>
<circle cx="913.5" cy="345" r="9.4" fill="#02386f"/>
<circle cx="10.5" cy="531" r="9.8" fill="#02386f"/>
<circle cx="184.25" cy="639" r="9.8" fill="#02386f"/>
<circle cx="253.2" cy="612.7" r="9.6" fill="#02386f"/>
<circle cx="709.75" cy="61.9" r="26" fill="#02386f"/>
<circle cx="853.1" cy="100.9" r="26" fill="#02386f"/>
<circle cx="605.1" cy="330.9" r="26" fill="#02386f"/>
<circle cx="475.65" cy="395.7" r="26" fill="#02386f"/>
<circle cx="762.4" cy="421.4" r="26" fill="#02386f"/>
<circle cx="97.1" cy="590.9" r="26" fill="#02386f"/>
<text class="lb" transform="translate(697.11,77.30) scale(0.3836,0.4273)" x="0" y="0">V</text>
<text class="lb" transform="translate(843.21,114.20) scale(0.4014,0.4302)" x="0" y="0">L</text>
<text class="lb" transform="translate(591.36,344.20) scale(0.4079,0.4302)" x="0" y="0">H</text>
<text class="lb" transform="translate(463.88,410.40) scale(0.3440,0.4288)" x="0" y="0">R</text>
<text class="lb" transform="translate(751.58,435.49) scale(0.3304,0.4110)" x="0" y="0">S</text>
<text class="lb" transform="translate(86.30,604.20) scale(0.3778,0.4302)" x="0" y="0">B</text>
</svg>
</body></html>
